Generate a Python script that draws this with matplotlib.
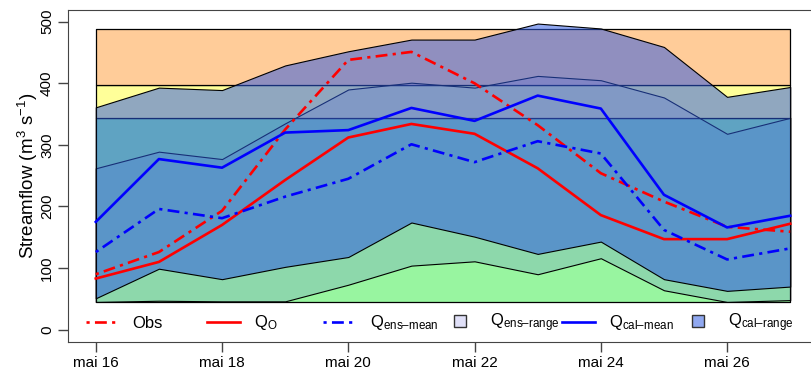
import numpy as np
import matplotlib
matplotlib.use('Agg')
import matplotlib.pyplot as plt
from matplotlib.lines import Line2D
from matplotlib.legend import Legend

plt.rcParams['font.family'] = ['Liberation Sans', 'DejaVu Sans']
plt.rcParams['mathtext.fontset'] = 'custom'
plt.rcParams['mathtext.rm'] = 'Liberation Sans'
plt.rcParams['mathtext.it'] = 'Liberation Sans:italic'
plt.rcParams['font.size'] = 11

# données (jours de mai)
jours = np.arange(16, 28)
obs = [90, 126, 193, 325, 438, 451, 400, 332, 254, 208, 167, 159]
q0 = [83, 110, 170, 243, 312, 334, 318, 262, 186, 147, 147, 172]
ens_mean = [126, 196, 181, 216, 245, 301, 272, 306, 286, 162, 114, 132]
cal_mean = [175, 277, 263, 320, 324, 360, 339, 380, 359, 219, 166, 185]
ens_lo = [45, 47, 46, 46, 73, 104, 111, 90, 116, 64, 45, 48]
ens_hi = [262, 289, 277, 335, 390, 401, 393, 412, 405, 377, 318, 344]
cal_lo = [51, 99, 82, 102, 118, 174, 151, 123, 143, 82, 63, 70]
cal_hi = [361, 393, 389, 429, 452, 471, 471, 497, 489, 459, 378, 394]

# seuils (bandes de fond)
seuils = [45, 344, 397, 488]
couleurs_seuils = ['#98F5A0', '#FFFF99', '#FFCC99']

ticks_jours = [16, 18, 20, 22, 24, 26]
ticks_labels = ['mai %d' % j for j in ticks_jours]

############################

fig = plt.figure(figsize=(8.11, 3.70), dpi=100)
ax = fig.add_axes([68/811, 28/370, 750/811, 332/370])

for i in range(3):
    ax.fill_between(jours, seuils[i], seuils[i+1], facecolor=couleurs_seuils[i],
                    edgecolor='black', lw=0.9, zorder=1)

ax.fill_between(jours, ens_lo, ens_hi, facecolor=(100/255, 100/255, 220/255, 0.2),
                edgecolor='black', lw=0.8, zorder=2)
ax.fill_between(jours, cal_lo, cal_hi, facecolor=(45/255, 90/255, 226/255, 0.53),
                edgecolor='black', lw=0.8, zorder=3)

dd = (1.2, 2, 4.5, 2)
ax.plot(jours, obs, color='red', lw=1.9, dashes=dd, zorder=4)
ax.plot(jours, q0, color='red', lw=1.9, zorder=4)
ax.plot(jours, ens_mean, color='blue', lw=1.9, dashes=dd, zorder=4)
ax.plot(jours, cal_mean, color='blue', lw=1.9, zorder=4)

ax.set_xlim(15.56, 27.44)
ax.set_ylim(-20, 519)
ax.set_xticks(ticks_jours)
ax.set_xticklabels(ticks_labels)
ax.set_yticks([0, 100, 200, 300, 400, 500])
ax.set_yticklabels(['0', '100', '200', '300', '400', '500'], rotation=90, va='center')
ax.tick_params(length=7, width=1, color='#444444', pad=3)
for s in ax.spines.values():
    s.set_color('#444444')
ax.set_ylabel('Streamflow (m$^3$ s$^{-1}$)', fontsize=13.5, labelpad=0)

# légende horizontale, une entrée par position
entrees = [
    (Line2D([], [], color='red', lw=1.9, dashes=dd), 'Obs'),
    (Line2D([], [], color='red', lw=1.9), 'Q$_{\\rm O}$'),
    (Line2D([], [], color='blue', lw=1.9, dashes=dd), 'Q$_{\\rm ens\u2013mean}$'),
    (Line2D([], [], ls='none', marker='s', ms=8, mfc='#E0E0F8', mec='#333333'), 'Q$_{\\rm ens\u2013range}$'),
    (Line2D([], [], color='blue', lw=1.9), 'Q$_{\\rm cal\u2013mean}$'),
    (Line2D([], [], ls='none', marker='s', ms=8, mfc='#90A8F0', mec='#333333'), 'Q$_{\\rm cal\u2013range}$'),
]
pos_x = [86, 207, 323, 443, 562, 681]
for (h, lab), px in zip(entrees, pos_x):
    leg = Legend(ax, [h], [lab], loc='center left',
                 bbox_to_anchor=((px - 68) / 750, 19 / 332), frameon=False,
                 borderpad=0, borderaxespad=0, handlelength=2.0, handletextpad=0.8,
                 fontsize=12)
    ax.add_artist(leg)

plt.savefig('out.png', dpi=100)
